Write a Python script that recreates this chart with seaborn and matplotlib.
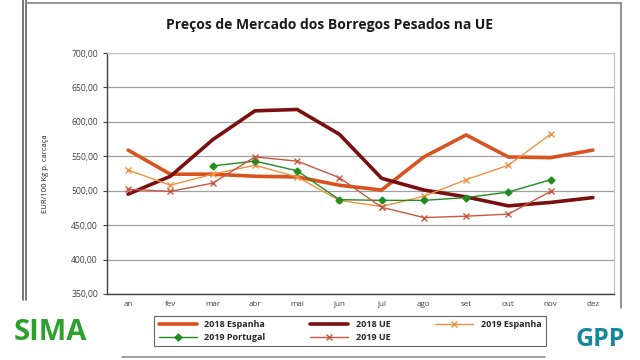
import matplotlib
matplotlib.use("Agg")
import matplotlib.pyplot as plt
import seaborn as sns
import numpy as np
import pandas as pd
from matplotlib.lines import Line2D

months = ["an", "fev", "mar", "abr", "mai", "jun", "jul", "ago", "set", "out", "nov", "dez"]
esp_2018 = [559, 524, 524, 521, 520, 508, 501, 549, 581, 549, 548, 559]
ue_2018 = [495, 521, 574, 616, 618, 582, 518, 501, 491, 478, 483, 490]
esp_2019 = [530, 508, 524, 537, 520, 486, 477, 492, 516, 537, 582, np.nan]
por_2019 = [np.nan, np.nan, 536, 543, 529, 487, 486, 486, 490, 498, 516, np.nan]
ue_2019 = [502, 499, 511, 549, 543, 519, 476, 461, 463, 466, 499, np.nan]
yticks = [350, 400, 450, 500, 550, 600, 650, 700]

title = "Preços de Mercado dos Borregos Pesados na UE"
ylabel = "EUR/100 Kg p. carcaça"

sns.set_theme(style="white")
plt.rcParams["font.family"] = ["Open Sans", "DejaVu Sans"]

fig = plt.figure(figsize=(6.4, 3.6), dpi=100)
W, H = 640, 360
ax = fig.add_axes([107 / W, 1 - 294 / H, (614 - 107) / W, (294 - 53) / H])

x = np.arange(len(months))
series = [
    ("2018 Espanha", esp_2018, "#d9531e", 2.6, None, 0),
    ("2018 UE", ue_2018, "#7a0f0f", 2.6, None, 0),
    ("2019 Espanha", esp_2019, "#f0913f", 1.0, "x", 4),
    ("2019 Portugal", por_2019, "#1f8c1f", 1.0, "D", 3.5),
    ("2019 UE", ue_2019, "#c8573f", 1.0, "x", 4),
]
handles = {}
for name, vals, col, lw, mk, ms in series:
    df = pd.DataFrame({"m": x, "v": vals}).dropna()
    sns.lineplot(data=df, x="m", y="v", ax=ax, color=col, linewidth=lw,
                 marker=mk, markersize=ms, markeredgecolor=col,
                 markerfacecolor=col, markeredgewidth=1.0, legend=False)
    handles[name] = Line2D([], [], color=col, lw=lw, marker=mk, markersize=ms,
                           markeredgecolor=col, markerfacecolor=col, label=name)

ax.set_xlim(-0.5, 11.5)
ax.set_ylim(350, 700)
ax.set_yticks(yticks)
ax.set_yticklabels([f"{v:.2f}".replace(".", ",") for v in yticks])
ax.set_xticks(x)
ax.set_xticklabels(months)
ax.set_xticks(np.arange(-0.5, 12, 1), minor=True)
ax.tick_params(axis="x", which="major", length=0, labelsize=5.8, labelcolor="#404040", pad=5)
ax.tick_params(axis="x", which="minor", length=3, direction="in", color="#404040", width=0.8)
ax.tick_params(axis="y", which="major", length=3, direction="out", color="#404040",
               labelsize=6.2, labelcolor="#404040", left=True, width=0.8)
ax.yaxis.grid(True, color="#a0a0a0", linewidth=0.9)
ax.set_axisbelow(True)
for s in ["top", "right"]:
    ax.spines[s].set_visible(True)
    ax.spines[s].set_color("#c0c0c0")
    ax.spines[s].set_linewidth(0.8)
for s in ["left", "bottom"]:
    ax.spines[s].set_color("#404040")
    ax.spines[s].set_linewidth(1.0)
ax.set_xlabel("")
ax.set_ylabel(ylabel, fontsize=5.5, color="#202020", labelpad=16)

fig.text(330 / W, 1 - 25 / H, title, ha="center", va="center",
         fontsize=10, fontweight="bold", color="#1a1a1a")

order = ["2018 Espanha", "2019 Portugal", "2018 UE", "2019 UE", "2019 Espanha"]
leg = fig.legend(handles=[handles[k] for k in order], loc="center", ncol=3,
                 bbox_to_anchor=(350 / W, 1 - 331 / H), frameon=True, numpoints=1,
                 prop={"size": 6.5, "weight": "bold"}, handlelength=4.2,
                 columnspacing=5, borderpad=0.5, labelspacing=0.4, fancybox=False)
leg.get_frame().set_edgecolor("#404040")
leg.get_frame().set_linewidth(0.8)

# outer frame lines (figure coordinates)
def fl(x0, y0, x1, y1, c="#606060", lw=1.2):
    fig.add_artist(Line2D([x0 / W, x1 / W], [1 - y0 / H, 1 - y1 / H], color=c, lw=lw))
fl(23, 0, 23, 300)
fl(26, 0, 26, 300)
fl(26, 3, 621, 3, c="#808080")
fl(621, 3, 621, 308, c="#808080")
fl(122, 357, 545, 357, c="#909090")

fig.text(14 / W, 1 - 332 / H, "SIMA", fontsize=21, fontweight="bold",
         color="#2ea02e", va="center", ha="left")
fig.text(600 / W, 1 - 340 / H, "GPP", fontsize=18, fontweight="bold",
         color="#13899a", va="center", ha="center")

fig.savefig("out.png", dpi=100)
